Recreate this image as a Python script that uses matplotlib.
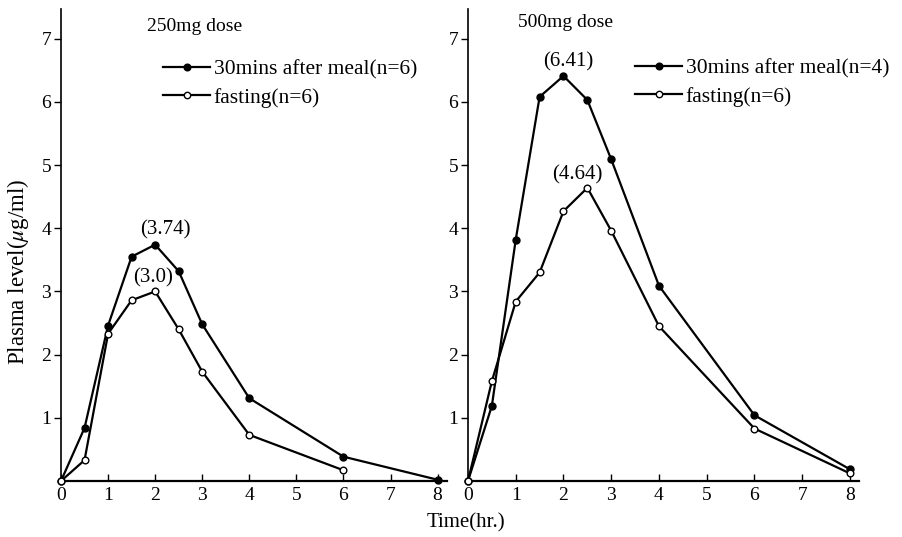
import matplotlib
matplotlib.use("Agg")
import matplotlib.pyplot as plt
from matplotlib.lines import Line2D

plt.rcParams['font.family'] = ['Liberation Serif', 'DejaVu Serif']
plt.rcParams['mathtext.fontset'] = 'stix'

# ---- data ----
time_meal_250 = [0, 0.5, 1, 1.5, 2, 2.5, 3, 4, 6, 8]
meal_250 = [0, 0.84, 2.46, 3.55, 3.74, 3.32, 2.48, 1.31, 0.385, 0.02]
time_fast_250 = [0, 0.5, 1, 1.5, 2, 2.5, 3, 4, 6]
fast_250 = [0, 0.33, 2.33, 2.86, 3.0, 2.40, 1.73, 0.73, 0.17]

time_meal_500 = [0, 0.5, 1, 1.5, 2, 2.5, 3, 4, 6, 8]
meal_500 = [0, 1.19, 3.82, 6.08, 6.41, 6.03, 5.09, 3.09, 1.04, 0.185]
time_fast_500 = [0, 0.5, 1, 1.5, 2, 2.5, 3, 4, 6, 8]
fast_500 = [0, 1.58, 2.84, 3.30, 4.27, 4.64, 3.96, 2.45, 0.83, 0.12]

x_ticks = [0, 1, 2, 3, 4, 5, 6, 7, 8]
y_ticks = [1, 2, 3, 4, 5, 6, 7]

W, H = 903, 537
fig = plt.figure(figsize=(W / 100, H / 100), dpi=100)

ax1 = fig.add_axes([61 / W, 56 / H, 386 / W, 472 / H])
ax2 = fig.add_axes([468 / W, 56 / H, 391.5 / W, 472 / H])

lw = 1.6
for ax in (ax1, ax2):
    ax.set_xlim(0, 8.2)
    ax.set_ylim(0, 7.47)
    ax.spines['top'].set_visible(False)
    ax.spines['right'].set_visible(False)
    ax.spines['left'].set_linewidth(1.2)
    ax.spines['bottom'].set_linewidth(1.6)
    ax.set_xticks(x_ticks)
    ax.set_yticks(y_ticks)
    ax.tick_params(axis='x', direction='in', length=5, width=1, labelsize=14, pad=4)
    ax.tick_params(axis='y', direction='out', length=5, width=1, labelsize=14, pad=2)
    ax.set_facecolor('white')


def draw(ax, t, v, filled):
    ax.plot(t, v, color='black', lw=lw, marker='o',
            markersize=5.0 if filled else 4.8,
            markerfacecolor='black' if filled else 'white',
            markeredgecolor='black', markeredgewidth=1.0, clip_on=False, zorder=3)


draw(ax1, time_meal_250, meal_250, True)
draw(ax1, time_fast_250, fast_250, False)
draw(ax2, time_meal_500, meal_500, True)
draw(ax2, time_fast_500, fast_500, False)

# peak annotations
tfs = 15
ax1.annotate('(3.74)', xy=(2, max(meal_250)), xytext=(10, 15), textcoords='offset pixels',
             ha='center', va='center', fontsize=tfs)
ax1.annotate('(3.0)', xy=(2, max(fast_250)), xytext=(-2, 14), textcoords='offset pixels',
             ha='center', va='center', fontsize=tfs)
ax2.annotate('(6.41)', xy=(2, max(meal_500)), xytext=(5, 14), textcoords='offset pixels',
             ha='center', va='center', fontsize=tfs)
ax2.annotate('(4.64)', xy=(2.5, max(fast_500)), xytext=(-10, 13), textcoords='offset pixels',
             ha='center', va='center', fontsize=tfs)

# panel titles
ax1.text(0.347, 0.962, '250mg dose', transform=ax1.transAxes, ha='center', va='center', fontsize=14)
ax2.text(0.248, 0.972, '500mg dose', transform=ax2.transAxes, ha='center', va='center', fontsize=14)


def legend(ax, x0, y0, n_meal, n_fast):
    h1 = Line2D([], [], color='black', lw=lw, marker='o', markersize=4.8,
                markerfacecolor='black', markeredgecolor='black')
    h2 = Line2D([], [], color='black', lw=lw, marker='o', markersize=4.6,
                markerfacecolor='white', markeredgecolor='black')
    ax.legend([h1, h2], [f'30mins after meal(n={n_meal})', f'fasting(n={n_fast})'],
              loc='upper left', bbox_to_anchor=(x0 / W, 1 - y0 / H),
              bbox_transform=fig.transFigure, frameon=False, fontsize=15.5,
              handlelength=2.2, handletextpad=0.15, borderpad=0, borderaxespad=0,
              labelspacing=0.4)


legend(ax1, 163, 59, 6, 6)
legend(ax2, 635, 58, 4, 6)

fig.text(18 / W, 1 - 272 / H, r'Plasma level($\mu$g/ml)', rotation=90,
         ha='center', va='center', fontsize=16.5)
fig.text(466 / W, 1 - 523 / H, 'Time(hr.)', ha='center', va='center', fontsize=15)

fig.savefig('out.png', dpi=100, facecolor='white')
